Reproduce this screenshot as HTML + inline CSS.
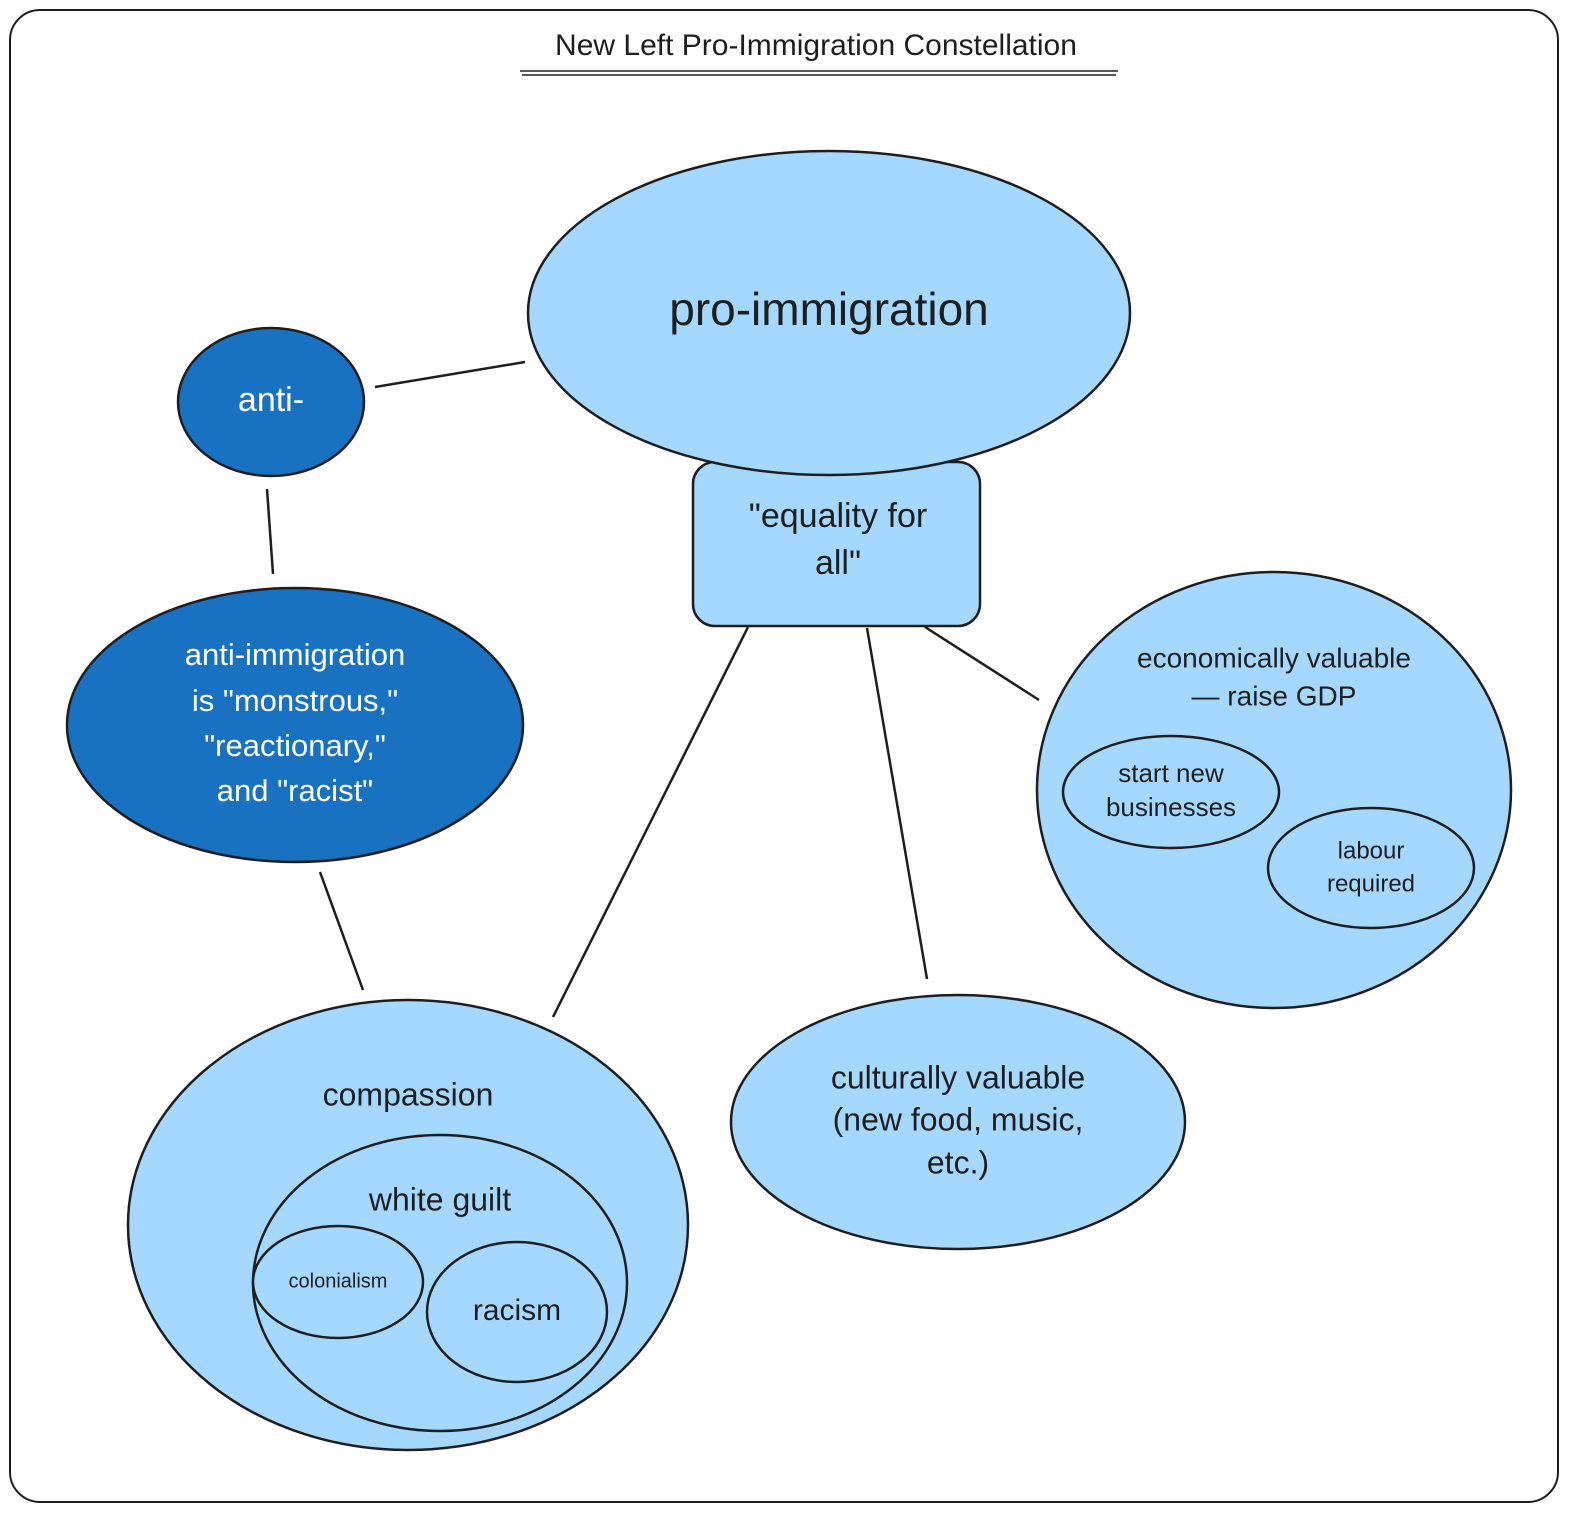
<!DOCTYPE html>
<html><head><meta charset="utf-8"><style>
html,body{margin:0;padding:0;background:#fff;}
svg{display:block;}
text{font-family:"Liberation Sans",sans-serif;text-anchor:middle;dominant-baseline:middle;}
</style></head><body>
<svg width="1577" height="1519" viewBox="0 0 1577 1519" xmlns="http://www.w3.org/2000/svg">
<rect x="10" y="10" width="1548" height="1492" rx="30" fill="#fff" stroke="#1e1e1e" stroke-width="2"/>
<text x="816" y="47" font-size="30" fill="#1e1e1e">New Left Pro-Immigration Constellation</text>
<line x1="520" y1="71" x2="1118" y2="71" stroke="#1e1e1e" stroke-width="1.5"/>
<line x1="522" y1="75" x2="1116" y2="75" stroke="#1e1e1e" stroke-width="1.5"/>

<g stroke="#1e1e1e" stroke-width="2.5" fill="none">
<line x1="375" y1="387" x2="525" y2="362"/>
<line x1="267" y1="489" x2="273" y2="574"/>
<line x1="320" y1="872" x2="363" y2="990"/>
<line x1="748" y1="627" x2="553" y2="1017"/>
<line x1="867" y1="628" x2="927" y2="979"/>
<line x1="925" y1="627" x2="1039" y2="700"/>
</g>

<g stroke="#1e1e1e" stroke-width="2.5">
<rect x="693" y="462" width="287" height="164" rx="22" fill="#a5d8ff"/>
<ellipse cx="829" cy="313" rx="301" ry="162" fill="#a5d8ff"/>
<ellipse cx="271" cy="402" rx="93" ry="74" fill="#1971c2"/>
<ellipse cx="295" cy="725" rx="228" ry="137" fill="#1971c2"/>
<ellipse cx="1274" cy="790" rx="237" ry="218" fill="#a5d8ff"/>
<ellipse cx="1171" cy="792" rx="108" ry="56" fill="#a5d8ff"/>
<ellipse cx="1371" cy="868" rx="103" ry="60" fill="#a5d8ff"/>
<ellipse cx="958" cy="1122" rx="227" ry="127" fill="#a5d8ff"/>
<ellipse cx="408" cy="1225" rx="280" ry="225" fill="#a5d8ff"/>
<ellipse cx="440" cy="1283" rx="187" ry="148" fill="#a5d8ff"/>
<ellipse cx="338" cy="1282" rx="85" ry="56" fill="#a5d8ff"/>
<ellipse cx="517" cy="1312" rx="90" ry="70" fill="#a5d8ff"/>
</g>

<g fill="#1e1e1e">
<text x="829" y="313" font-size="46">pro-immigration</text>
<text x="838" y="518" font-size="34">"equality for</text>
<text x="838" y="565" font-size="34">all"</text>
<text x="1274" y="660" font-size="28">economically valuable</text>
<text x="1274" y="698" font-size="28">— raise GDP</text>
<text x="1171" y="775" font-size="26">start new</text>
<text x="1171" y="809" font-size="26">businesses</text>
<text x="1371" y="852" font-size="24">labour</text>
<text x="1371" y="885" font-size="24">required</text>
<text x="958" y="1080" font-size="32">culturally valuable</text>
<text x="958" y="1122" font-size="32">(new food, music,</text>
<text x="958" y="1165" font-size="32">etc.)</text>
<text x="408" y="1097" font-size="32">compassion</text>
<text x="440" y="1202" font-size="32">white guilt</text>
<text x="338" y="1282" font-size="20">colonialism</text>
<text x="517" y="1312" font-size="30">racism</text>
</g>
<g fill="#ffffff">
<text x="271" y="402" font-size="34">anti-</text>
<text x="295" y="657" font-size="31">anti-immigration</text>
<text x="295" y="703" font-size="31">is "monstrous,"</text>
<text x="295" y="748" font-size="31">"reactionary,"</text>
<text x="295" y="793" font-size="31">and "racist"</text>
</g>
</svg>
</body></html>
